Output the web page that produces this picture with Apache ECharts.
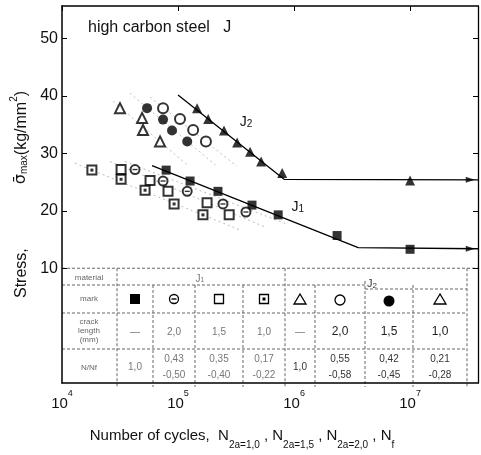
<!DOCTYPE html>
<html><head><meta charset="utf-8">
<script src="https://cdn.jsdelivr.net/npm/echarts@6/dist/echarts.min.js"></script>
<style>html,body{margin:0;padding:0;background:#fff}#c{width:481px;height:455px}</style>
</head><body><div id="c"></div>
<script>
// ---- axis ticks ----
const xTickValues = [1e4, 1e5, 1e6, 1e7];
const yTickValues = [10, 20, 30, 40, 50];

// ---- J2 (upper group) : [cycles, stress kg/mm2] ----
const j2Nf      = [[1.46e5,37.9],[1.82e5,36.0],[2.49e5,34.0],[3.23e5,31.9],[4.18e5,30.3],[5.2e5,28.6],[7.9e5,26.6],[1.0e7,25.3]];
const j2Crack20 = [[7.43e4,37.9],[1.04e5,36.0],[1.35e5,34.1],[1.74e5,32.1]];
const j2Crack15 = [[5.41e4,37.9],[7.43e4,35.9],[8.88e4,34.0],[1.20e5,32.1]];
const j2Crack10 = [[3.16e4,37.9],[4.9e4,36.2],[4.99e4,34.1],[7.0e4,32.1]];
const j2Curve   = [[1.0e5,40.2],[8.2e5,25.5],[3.85e7,25.4]];
const j2Runout  = [[3.3e7,25.4]];
const j2Fit20   = [[5.74e4,39.8],[3.2e5,27.8]];
const j2Fit15   = [[3.85e4,40.5],[2.1e5,28.0]];
const j2Fit10   = [[2.75e4,39.1],[1.2e5,28.0]];

// ---- J1 (lower group) ----
const j1Nf      = [[7.9e4,27.1],[1.27e5,25.2],[2.21e5,23.4],[4.34e5,21.0],[7.3e5,19.3],[2.35e6,15.7],[1.0e7,13.3]];
const j1Crack20 = [[4.26e4,27.2],[7.43e4,25.2],[1.20e5,23.4],[2.44e5,21.2],[3.85e5,19.8]];
const j1Crack15 = [[3.23e4,27.2],[5.74e4,25.3],[8.2e4,23.4],[1.78e5,21.4],[2.76e5,19.3]];
const j1Crack10 = [[1.81e4,27.1],[3.23e4,25.5],[5.2e4,23.6],[9.25e4,21.2],[1.64e5,19.3]];
const j1Curve   = [[5.97e4,27.9],[3.57e6,13.6],[3.85e7,13.4]];
const j1Runout  = [[3.3e7,13.4]];
const j1Fit20   = [[3.49e4,28.6],[8.4e5,17.8]];
const j1Fit15   = [[2.59e4,28.6],[5.6e5,17.2]];
const j1Fit10   = [[1.29e4,28.3],[3.4e5,16.7]];

// ---- table content ----
const rowHeaders   = ['material', 'mark', 'crack\nlength\n(mm)', 'N/Nf'];
const crackLengths = ['—', '2,0', '1,5', '1,0', '—', '2,0', '1,5', '1,0'];
const lifeRatios   = ['1,0', '0,43\n-0,50', '0,35\n-0,40', '0,17\n-0,22', '1,0', '0,55\n-0,58', '0,42\n-0,45', '0,21\n-0,28'];

const FONT = 'Liberation Sans';
const chart = echarts.init(document.getElementById('c'));

function sc(name, data, symbol, size, filled, extra) {
  return Object.assign({
    name, type: 'scatter', data, symbol, symbolSize: size, z: 5,
    itemStyle: filled ? {color: '#000'} : {color: '#000', borderColor: '#000', borderWidth: 1.2},
    emphasis: {disabled: true}
  }, extra || {});
}
function ln(data, dotted) {
  return {
    type: 'line', data, symbol: 'none', z: dotted ? 2 : 3, silent: true,
    lineStyle: dotted ? {color: '#aaa', width: 0.8, type: [2, 3]} : {color: '#000', width: 1.3}
  };
}

const T = {fontFamily: FONT, fontSize: 16, color: '#111'};
const option = {
  animation: false,
  backgroundColor: '#fff',
  grid: {left: 62, right: 3, top: 6, bottom: 68},
  xAxis: [{
    type: 'log', logBase: 10, min: 1e4, max: 3.85e7,
    axisLine: {onZero: false, lineStyle: {color: '#000', width: 1.5}},
    axisTick: {show: false},
    splitLine: {show: false},
    minorTick: {show: false},
    axisLabel: {
      customValues: xTickValues, margin: 6,
      formatter: v => '{b|10}{s|' + Math.round(Math.log10(v)) + '}',
      rich: {b: Object.assign({}, T, {fontSize: 15, lineHeight: 22, verticalAlign: 'bottom'}),
             s: Object.assign({}, T, {fontSize: 9, lineHeight: 9, verticalAlign: 'top'})}
    },
    name: '{t|Number of cycles,  N}{s|2a=1,0}{t| , N}{s|2a=1,5}{t| , N}{s|2a=2,0}{t| , N}{s|f}',
    nameLocation: 'middle', nameGap: 45,
    nameTextStyle: {
      padding: [0, 56, 0, 0],
      rich: {t: Object.assign({}, T, {fontSize: 15, lineHeight: 22, verticalAlign: 'top'}),
             s: Object.assign({}, T, {fontSize: 10, lineHeight: 10, verticalAlign: 'bottom'})}
    }
  }, {
    type: 'log', logBase: 10, min: 1e4, max: 3.85e7, position: 'top',
    axisLine: {onZero: false, lineStyle: {color: '#000', width: 1.5}},
    axisTick: {inside: true, length: 5, customValues: xTickValues, lineStyle: {color: '#000'}},
    axisLabel: {show: false}, splitLine: {show: false}
  }],
  yAxis: [{
    type: 'value', min: -10, max: 55.7, interval: 10,
    axisLine: {show: true, onZero: false, lineStyle: {color: '#000', width: 1.5}},
    axisTick: {show: true, inside: true, length: 5, customValues: yTickValues, lineStyle: {color: '#000'}},
    axisLabel: {customValues: yTickValues, margin: 4, fontFamily: FONT, fontSize: 16, color: '#111'},
    splitLine: {show: false},
    name: '{a|Stress,}{g| }{b|σ̄}{sub|max}{a|(kg/mm}{sup|2}{a|)}',
    nameLocation: 'middle', nameGap: 28,
    nameTextStyle: {
      padding: [0, 0, 0, 0],
      rich: {a: Object.assign({}, T, {fontSize: 16, lineHeight: 20, verticalAlign: 'bottom'}),
             b: {fontFamily: 'DejaVu Sans', fontSize: 16, lineHeight: 20, verticalAlign: 'bottom', color: '#111'},
             sub: Object.assign({}, T, {fontSize: 10, lineHeight: 10, verticalAlign: 'bottom'}),
             sup: Object.assign({}, T, {fontSize: 10, lineHeight: 10, verticalAlign: 'top'}),
             g: {width: 64}}
    }
  }, {
    type: 'value', min: -10, max: 55.7, interval: 10, position: 'right',
    axisLine: {show: true, onZero: false, lineStyle: {color: '#000', width: 1.3}},
    axisTick: {show: true, inside: true, length: 5, customValues: yTickValues, lineStyle: {color: '#000'}},
    axisLabel: {show: false}, splitLine: {show: false}
  }],
  series: [
    ln(j2Fit20, true), ln(j2Fit15, true), ln(j2Fit10, true),
    ln(j1Fit20, true), ln(j1Fit15, true), ln(j1Fit10, true),
    ln(j2Curve, false), ln(j1Curve, false),
    sc('J2 Nf', j2Nf, 'triangle', 10, true),
    sc('J2 2.0mm', j2Crack20, 'emptyCircle', 10, false),
    sc('J2 1.5mm', j2Crack15, 'circle', 10, true),
    sc('J2 1.0mm', j2Crack10, 'emptyTriangle', 10, false),
    sc('J1 Nf', j1Nf, 'rect', 9, true),
    sc('J1 2.0mm', j1Crack20, 'emptyCircle', 9, false),
    sc('J1 2.0mm bar', j1Crack20, 'rect', [5, 1.4], true, {z: 6}),
    sc('J1 1.5mm', j1Crack15, 'emptyRect', 9, false),
    sc('J1 1.0mm', j1Crack10, 'emptyRect', 9, false),
    sc('J1 1.0mm dot', j1Crack10, 'rect', 3, true, {z: 6}),
    sc('J2 runout', j2Runout, 'triangle', [6, 9], true, {symbolRotate: -90}),
    sc('J1 runout', j1Runout, 'triangle', [6, 9], true, {symbolRotate: -90})
  ],
  graphic: []
};
chart.setOption(option);

// ---- table + annotations (layout only) ----
const g = [];
const dash = {stroke: '#666', lineWidth: 1, lineDash: [3, 2]};
function hl(x1, x2, y) { g.push({type: 'line', silent: true, shape: {x1, y1: y, x2, y2: y}, style: dash}); }
function vl(x, y1, y2) { g.push({type: 'line', silent: true, shape: {x1: x, y1, x2: x, y2}, style: dash}); }
const yTop = chart.convertToPixel({yAxisIndex: 0}, 10);
const rowY = [yTop, 285, 313, 349, 387];
const colX = [117, 153, 195, 243, 285, 315, 365, 413, 467];
const centers = [135, 174, 219, 264, 300, 340, 389, 440];
hl(62, 478, rowY[0]); hl(62, 365, rowY[1]); hl(365, 467, 289); hl(62, 467, rowY[2]); hl(62, 467, rowY[3]);
vl(colX[0], rowY[0], 387); vl(colX[4], rowY[0], 387); vl(colX[8], rowY[0], 387);
[1, 2, 3, 5, 7].forEach(i => vl(colX[i], rowY[1], 387));
vl(colX[6], 281, 387);
const hdrY = [278, 299, 331, 368];
rowHeaders.forEach((t, i) => g.push({type: 'text', silent: true, x: 89, y: hdrY[i],
  style: {text: t, fontFamily: FONT, fontSize: 8, lineHeight: 9, fill: '#666', align: 'center', verticalAlign: 'middle'}}));
g.push({type: 'text', silent: true, x: 200, y: 279, style: {text: '{a|J}{s|1}', align: 'center', verticalAlign: 'middle',
  rich: {a: {fontFamily: FONT, fontSize: 10, fill: '#777'}, s: {fontFamily: FONT, fontSize: 7, fill: '#777', verticalAlign: 'bottom'}}}});
g.push({type: 'text', silent: true, x: 372, y: 284, style: {text: '{a|J}{s|2}', align: 'center', verticalAlign: 'middle',
  rich: {a: {fontFamily: FONT, fontSize: 11, fill: '#333'}, s: {fontFamily: FONT, fontSize: 8, fill: '#333', verticalAlign: 'bottom'}}}});
const my = 300, blk = {fill: '#000'}, opn = {fill: '#fff', stroke: '#000', lineWidth: 1.3};
g.push({type: 'rect', silent: true, shape: {x: centers[0] - 5, y: my - 6, width: 10, height: 10}, style: blk});
g.push({type: 'circle', silent: true, shape: {cx: centers[1], cy: my - 1, r: 4.5}, style: opn});
g.push({type: 'rect', silent: true, shape: {x: centers[1] - 2.5, y: my - 1.7, width: 5, height: 1.4}, style: blk});
g.push({type: 'rect', silent: true, shape: {x: centers[2] - 4.5, y: my - 5.5, width: 9, height: 9}, style: opn});
g.push({type: 'rect', silent: true, shape: {x: centers[3] - 4.5, y: my - 5.5, width: 9, height: 9}, style: opn});
g.push({type: 'rect', silent: true, shape: {x: centers[3] - 1.5, y: my - 2.5, width: 3, height: 3}, style: blk});
g.push({type: 'polygon', silent: true, shape: {points: [[centers[4], my - 6], [centers[4] - 6, my + 4], [centers[4] + 6, my + 4]]}, style: opn});
g.push({type: 'circle', silent: true, shape: {cx: centers[5], cy: my, r: 5}, style: opn});
g.push({type: 'circle', silent: true, shape: {cx: centers[6], cy: my + 1, r: 5.5}, style: blk});
g.push({type: 'polygon', silent: true, shape: {points: [[centers[7], my - 6], [centers[7] - 6, my + 4], [centers[7] + 6, my + 4]]}, style: opn});
crackLengths.forEach((t, i) => g.push({type: 'text', silent: true, x: centers[i], y: 332,
  style: {text: t, fontFamily: FONT, fontSize: i >= 5 ? 12 : 10, fill: i >= 5 ? '#222' : '#777', align: 'center', verticalAlign: 'middle'}}));
lifeRatios.forEach((t, i) => g.push({type: 'text', silent: true, x: centers[i], y: 367,
  style: {text: t, fontFamily: FONT, fontSize: 10, lineHeight: 16, fill: i >= 4 ? '#333' : '#777', align: 'center', verticalAlign: 'middle'}}));
// annotations
g.push({type: 'text', silent: true, x: 88, y: 28, style: {text: 'high carbon steel   J', fontFamily: FONT, fontSize: 16, fill: '#111', verticalAlign: 'middle'}});
const p2 = chart.convertToPixel({xAxisIndex: 0, yAxisIndex: 0}, [3.4e5, 35.5]);
g.push({type: 'text', silent: true, x: p2[0], y: p2[1], style: {text: '{a|J}{s|2}', verticalAlign: 'middle',
  rich: {a: {fontFamily: FONT, fontSize: 14, fill: '#111'}, s: {fontFamily: FONT, fontSize: 10, fill: '#111', verticalAlign: 'bottom'}}}});
const p1 = chart.convertToPixel({xAxisIndex: 0, yAxisIndex: 0}, [9.5e5, 20.6]);
g.push({type: 'text', silent: true, x: p1[0], y: p1[1], style: {text: '{a|J}{s|1}', verticalAlign: 'middle',
  rich: {a: {fontFamily: FONT, fontSize: 14, fill: '#111'}, s: {fontFamily: FONT, fontSize: 10, fill: '#111', verticalAlign: 'bottom'}}}});
chart.setOption({graphic: g});
</script></body></html>
